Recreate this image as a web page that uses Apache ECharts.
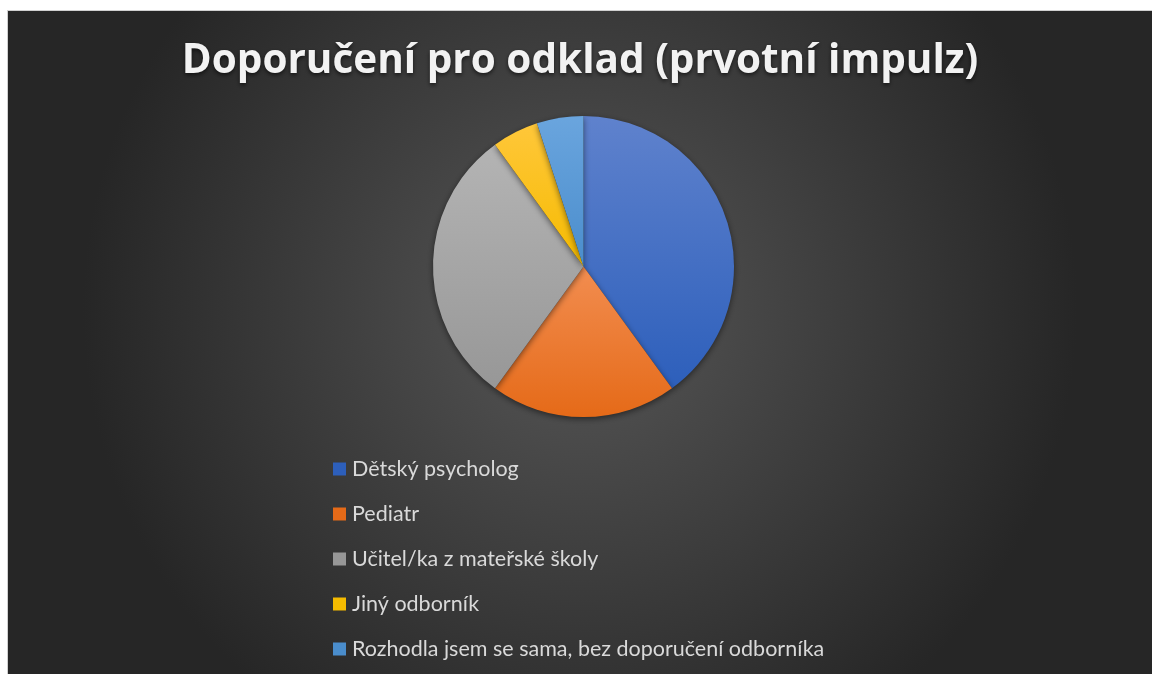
<!DOCTYPE html>
<html>
<head>
<meta charset="utf-8">
<script src="https://cdn.jsdelivr.net/npm/echarts@6/dist/echarts.min.js"></script>
<style>
html,body{margin:0;padding:0;background:#fff;width:1152px;height:674px;overflow:hidden;}
#frame{position:absolute;left:7px;top:10px;width:1145px;height:664px;background:#d0d0d0;}
#chart{position:absolute;left:8px;top:11px;width:1144px;height:663px;}
</style>
</head>
<body>
<div id="frame"></div>
<div id="chart"></div>
<script>
const titleText = 'Doporučení pro odklad (prvotní impulz)';
const categories = ['Dětský psycholog', 'Pediatr', 'Učitel/ka z mateřské školy', 'Jiný odborník', 'Rozhodla jsem se sama, bez doporučení odborníka'];
const values = [8, 4, 6, 1, 1];
const colorsTop = ['#5f82cd', '#f28d50', '#b4b4b4', '#ffc73a', '#6aa5de'];
const colorsBottom = ['#2d5fbb', '#e56a18', '#979797', '#f5bb00', '#4a8dcc'];

const chart = echarts.init(document.getElementById('chart'));
const data = categories.map((name, i) => ({
  name: name,
  value: values[i],
  itemStyle: {
    color: new echarts.graphic.LinearGradient(0, 0, 0, 1, [
      {offset: 0, color: colorsTop[i]},
      {offset: 1, color: colorsBottom[i]}
    ])
  }
}));
chart.setOption({
  backgroundColor: {
    type: 'radial', x: 0.5, y: 0.45, r: 0.75,
    colorStops: [
      {offset: 0, color: '#575757'},
      {offset: 1, color: '#262626'}
    ]
  },
  title: {
    text: titleText,
    left: 'center',
    top: 25,
    textStyle: {
      fontFamily: 'Open Sans',
      fontWeight: 'bold',
      fontSize: 40.5,
      color: '#f2f2f2',
      textShadowColor: 'rgba(0,0,0,0.6)',
      textShadowBlur: 4,
      textShadowOffsetY: 2
    }
  },
  legend: {
    orient: 'vertical',
    left: 325,
    top: 447,
    padding: 0,
    height: 240,
    itemWidth: 13,
    itemHeight: 13,
    itemGap: 23,
    icon: 'rect',
    data: categories.map((c, i) => ({name: c, itemStyle: {color: colorsBottom[i]}})),
    textStyle: {
      fontFamily: 'Lato',
      fontSize: 21.5,
      color: '#d9d9d9',
      padding: [0, 0, 0, 1]
    }
  },
  series: [{
    type: 'pie',
    center: [575.5, 255.5],
    radius: 150.5,
    startAngle: 90,
    clockwise: true,
    label: {show: false},
    labelLine: {show: false},
    emphasis: {disabled: true},
    animation: false,
    itemStyle: {
      shadowColor: 'rgba(0,0,0,0.5)',
      shadowBlur: 6,
      shadowOffsetY: 2
    },
    data: data
  }]
});
</script>
</body>
</html>
